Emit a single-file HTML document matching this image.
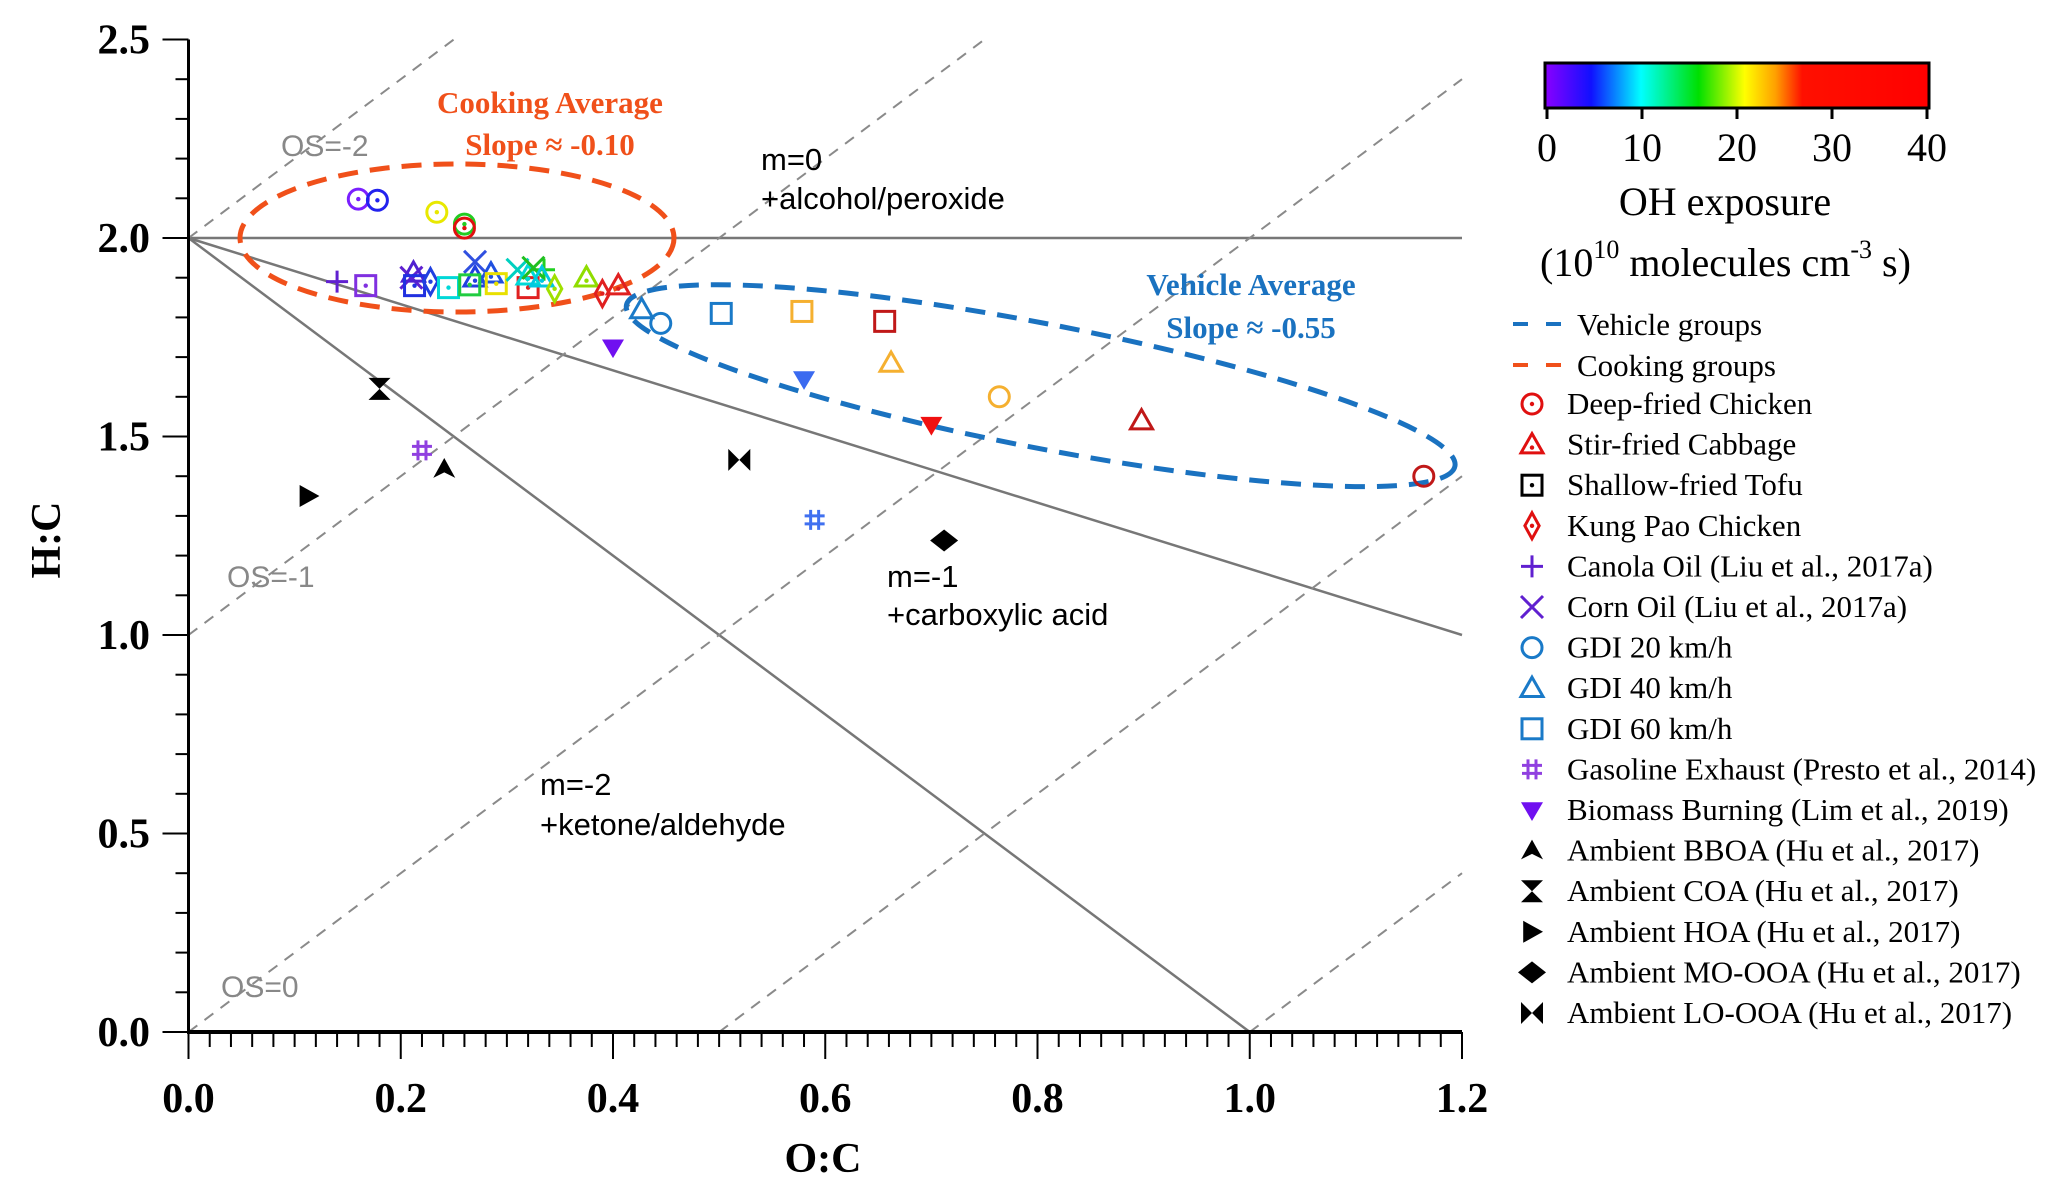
<!DOCTYPE html>
<html><head><meta charset="utf-8"><style>
html,body{margin:0;padding:0;background:#fff;}
svg{display:block;}
.tk{font-family:"Liberation Serif",serif;font-weight:bold;font-size:42px;}
.ann{font-family:"Liberation Sans",sans-serif;font-size:31px;fill:#000;}
.os{font-family:"Liberation Sans",sans-serif;font-size:30px;fill:#888;}
.lg{font-family:"Liberation Serif",serif;font-size:31px;fill:#000;}
</style></head><body>
<svg id="chart" width="2067" height="1195" viewBox="0 0 2067 1195" xmlns="http://www.w3.org/2000/svg">
<defs>
<linearGradient id="cmap" x1="0" x2="1" y1="0" y2="0">
<stop offset="0" stop-color="#8a00ff"/><stop offset="0.12" stop-color="#1010ff"/><stop offset="0.25" stop-color="#00ffff"/><stop offset="0.4" stop-color="#00e000"/><stop offset="0.52" stop-color="#ffff00"/><stop offset="0.6" stop-color="#ffa000"/><stop offset="0.67" stop-color="#ff1000"/><stop offset="1" stop-color="#ff0000"/>
</linearGradient>
</defs>
<g id="plot"></g>
<g id="legend"></g>
</svg>
<script>
// ---- data ----
const ocValues=[0.160,0.178,0.234,0.260,0.260,0.140,0.167,0.210,0.212,0.213,0.228,0.270,0.270,0.285,0.245,0.265,0.290,0.320,0.310,0.320,0.335,0.325,0.333,0.345,0.375,0.390,0.405,
0.427,0.445,0.502,0.578,0.656,0.662,0.764,0.898,1.164,
0.400,0.580,0.700,0.220,0.590,0.241,0.180,0.113,0.712,0.519];
const hcValues=[2.098,2.095,2.065,2.035,2.025,1.890,1.880,1.900,1.912,1.880,1.890,1.940,1.900,1.910,1.875,1.882,1.885,1.875,1.920,1.905,1.920,1.925,1.900,1.872,1.900,1.860,1.880,
1.820,1.785,1.810,1.815,1.790,1.685,1.600,1.540,1.400,
1.725,1.645,1.530,1.465,1.290,1.418,1.620,1.350,1.238,1.441];
const pointShapes=["circleDot","circleDot","circleDot","circleDot","circleDot","plus","squareDot","x","triangleDot","squareDot","diamondDot","x","triangleDot","triangleDot","squareDot","squareDot","squareDot","squareDot","x","triangleDot","plus","x","triangleDot","diamondDot","triangleDot","diamondDot","triangleDot",
"triangle","circle","square","square","square","triangle","circle","triangle","circle",
"tridown","tridown","tridown","hash","hash","bboa","coa","hoa","mo","lo"];
const pointColors=["#7a1fff","#2222ee","#e8e800","#22cc22","#e01010","#6020d0","#8030e0","#6020d0","#5020d0","#2030e0","#2040e0","#3050e0","#2040e0","#2050e0","#00d8d8","#20cc40","#e8e000","#e02020","#00d0c0","#00d8d8","#20d020","#20c020","#00c8e0","#a0e000","#90dd00","#e02020","#e02020",
"#1a7ac8","#1a7ac8","#1a7ac8","#f5b030","#c01818","#f5b030","#f5b030","#c01818","#c01818",
"#7010f0","#3a6af0","#f01010","#9040e0","#4070f0","#000","#000","#000","#000","#000"];
const xTicks=[0,0.2,0.4,0.6,0.8,1.0,1.2];
const xTickLabels=["0.0","0.2","0.4","0.6","0.8","1.0","1.2"];
const yTicks=[0,0.5,1.0,1.5,2.0,2.5];
const yTickLabels=["0.0","0.5","1.0","1.5","2.0","2.5"];
const cbTicks=[0,10,20,30,40];
const legendLabels=["Deep-fried Chicken","Stir-fried Cabbage","Shallow-fried Tofu","Kung Pao Chicken","Canola Oil (Liu et al., 2017a)","Corn Oil (Liu et al., 2017a)","GDI 20 km/h","GDI 40 km/h","GDI 60 km/h","Gasoline Exhaust (Presto et al., 2014)","Biomass Burning (Lim et al., 2019)","Ambient BBOA (Hu et al., 2017)","Ambient COA (Hu et al., 2017)","Ambient HOA (Hu et al., 2017)","Ambient MO-OOA (Hu et al., 2017)","Ambient LO-OOA (Hu et al., 2017)"];
const legendShapes=["circleDot","triangleDot","squareDot","diamondDot","plus","x","circle","triangle","square","hash","tridown","bboa","coa","hoa","mo","lo"];
const legendColors=["#e01010","#e01010","#000","#e01010","#6020d0","#6020d0","#1a7ac8","#1a7ac8","#1a7ac8","#9040e0","#7010f0","#000","#000","#000","#000","#000"];

// ---- axes ----
const X0=188.5,X1=1462,Y0=1032,Y1=39.5;
const sx=v=>X0+(X1-X0)*v/1.2;
const sy=v=>Y0-(Y0-Y1)*v/2.5;
const NS="http://www.w3.org/2000/svg";
function mk(tag,attrs,parent){const e=document.createElementNS(NS,tag);for(const k in attrs)e.setAttribute(k,attrs[k]);parent.appendChild(e);return e;}
const plot=document.getElementById('plot');
const legend=document.getElementById('legend');

// reference lines
const refLines=[[0,2,1.2,2,null],[0,2,1.2,1.0,null],[0,2,1.0,0,null],
[0,2,0.25,2.5,1],[0,1,0.75,2.5,1],[0,0,1.2,2.4,1],[0.5,0,1.2,1.4,1],[1.0,0,1.2,0.4,1]];
refLines.forEach((l,i)=>{
 const e=mk('line',{x1:sx(l[0]),y1:sy(l[1]),x2:sx(l[2]),y2:sy(l[3]),stroke:l[4]?'#8a8a8a':'#777','stroke-width':l[4]?2:2.5,'stroke-dasharray':l[4]?'11 9':'none'},plot);
 
 
});

// axes
let ax=mk('line',{x1:X0,y1:Y0,x2:X1,y2:Y0,stroke:'#000','stroke-width':4},plot);


ax=mk('line',{x1:X0,y1:Y0+2,x2:X0,y2:Y1,stroke:'#000','stroke-width':3},plot);


for(let i=0;i<=60;i++){const v=i*0.02;const maj=i%10===0;
 const t=mk('line',{x1:sx(v),y1:Y0,x2:sx(v),y2:Y0+(maj?27:15),stroke:'#000','stroke-width':2},plot);
 
 }
for(let i=0;i<=25;i++){const v=i*0.1;const maj=i%5===0;
 const t=mk('line',{x1:X0,y1:sy(v),x2:X0-(maj?26:13),y2:sy(v),stroke:'#000','stroke-width':2},plot);
 
 }
xTicks.forEach((v,i)=>{const t=mk('text',{x:sx(v),y:1112,'text-anchor':'middle',class:'tk'},plot);t.textContent=xTickLabels[i];
 
 });
yTicks.forEach((v,i)=>{const t=mk('text',{x:150,y:sy(v)+14,'text-anchor':'end',class:'tk','font-size':44},plot);t.textContent=yTickLabels[i];
 
 });
let tt=mk('text',{x:823,y:1172,'text-anchor':'middle',class:'tk','font-size':52},plot);tt.textContent='O:C';


tt=mk('text',{x:0,y:0,'text-anchor':'middle',class:'tk','font-size':52,transform:'translate(60,540) rotate(-90)'},plot);tt.textContent='H:C';



// annotations
const anns=[["m=0",761,170,'ann'],["+alcohol/peroxide",761,209,'ann'],["m=-1",887,587,'ann'],["+carboxylic acid",887,625,'ann'],["m=-2",540,795,'ann'],["+ketone/aldehyde",540,835,'ann'],["OS=-2",281,156,'os'],["OS=-1",227,587,'os'],["OS=0",221,997,'os']];
anns.forEach(a=>{const t=mk('text',{x:a[1],y:a[2],class:a[3]},plot);t.textContent=a[0];
 
 });
const bold=[["Cooking Average",550,113,'#f0501a'],["Slope ≈ -0.10",550,155,'#f0501a'],["Vehicle Average",1251,295,'#1a72c0'],["Slope ≈ -0.55",1251,338,'#1a72c0']];
bold.forEach(a=>{const t=mk('text',{x:a[1],y:a[2],'text-anchor':'middle',fill:a[3],'font-family':'"Liberation Serif",serif','font-weight':'bold','font-size':31},plot);t.textContent=a[0];
 
 });

// ellipses
let el=mk('ellipse',{cx:sx(0.253),cy:sy(2.0),rx:217,ry:74,fill:'none',stroke:'#f0501a','stroke-width':5,'stroke-dasharray':'20 12'},plot);


el=mk('ellipse',{cx:0,cy:0,rx:422,ry:62,fill:'none',stroke:'#1a72c0','stroke-width':5,'stroke-dasharray':'20 12',transform:`translate(${sx(0.803)},${sy(1.628)}) rotate(11)`},plot);



// markers
function marker(shape,x,y,c,parent){
 const g=mk('g',{transform:`translate(${x},${y})`},parent);
 const st={fill:'none',stroke:c,'stroke-width':3};
 const dot=()=>mk('circle',{r:2.2,fill:c},g);
 const s=11;
 if(shape.startsWith('circle')){mk('circle',Object.assign({r:s-1},st),g);if(shape.endsWith('Dot'))dot();}
 else if(shape.startsWith('triangle')){mk('polygon',Object.assign({points:`0,${-s} ${s},${s*0.75} ${-s},${s*0.75}`},st),g);if(shape.endsWith('Dot'))mk('circle',{r:2.2,cy:3,fill:c},g);}
 else if(shape.startsWith('square')){mk('rect',Object.assign({x:-s+1,y:-s+1,width:2*s-2,height:2*s-2},st),g);if(shape.endsWith('Dot'))dot();}
 else if(shape.startsWith('diamond')){mk('polygon',Object.assign({points:`0,${-s-2} ${s*0.65},0 0,${s+2} ${-s*0.65},0`},st),g);if(shape.endsWith('Dot'))dot();}
 else if(shape==='plus'){mk('path',Object.assign({d:`M${-s},0H${s}M0,${-s}V${s}`},st),g);}
 else if(shape==='x'){mk('path',Object.assign({d:`M${-s},${-s}L${s},${s}M${s},${-s}L${-s},${s}`},st),g);}
 else if(shape==='hash'){mk('path',Object.assign({d:`M-4,-10L-4,10M4,-10L4,10M-10,-4H10M-10,4H10`},st),g);}
 else if(shape==='tridown'){mk('polygon',{points:`${-s},${-s*0.7} ${s},${-s*0.7} 0,${s}`,fill:c},g);}
 else if(shape==='bboa'){mk('polygon',{points:`0,${-s} ${s},${s*0.8} 0,${s*0.3} ${-s},${s*0.8}`,fill:c},g);}
 else if(shape==='coa'){mk('polygon',{points:`${-s},${-s} ${s},${-s} 0,0 ${s},${s} ${-s},${s} 0,0`,fill:c},g);}
 else if(shape==='hoa'){mk('polygon',{points:`${-s*0.8},${-s} ${s},0 ${-s*0.8},${s}`,fill:c},g);}
 else if(shape==='mo'){mk('polygon',{points:`0,${-s} ${s+3},0 0,${s} ${-s-3},0`,fill:c},g);}
 else if(shape==='lo'){mk('polygon',{points:`${-s},${-s} 0,0 ${s},${-s} ${s},${s} 0,0 ${-s},${s}`,fill:c},g);}
 return g;
}
ocValues.forEach((v,i)=>{
 const g=marker(pointShapes[i],sx(v),sy(hcValues[i]),pointColors[i],plot);
 
 
});

// colorbar
const CB0=1545,CB1=1929;
let cb=mk('rect',{x:CB0,y:63,width:CB1-CB0,height:45,fill:'url(#cmap)',stroke:'#000','stroke-width':3},legend);


cbTicks.forEach(v=>{const x=CB0+2+(CB1-CB0-4)*v/40;
 const l=mk('line',{x1:x,y1:108,x2:x,y2:119,stroke:'#000','stroke-width':3},legend);
 
 
 const t=mk('text',{x:x,y:161,'text-anchor':'middle','font-family':'"Liberation Serif",serif','font-size':40},legend);t.textContent=v;
 
 });
let ct=mk('text',{x:1725,y:215,'text-anchor':'middle','font-family':'"Liberation Serif",serif','font-size':40},legend);ct.textContent='OH  exposure';


ct=mk('text',{x:1540,y:276,'font-family':'"Liberation Serif",serif','font-size':40},legend);
ct.innerHTML='(10<tspan dy="-18" font-size="26">10</tspan><tspan dy="18"> molecules cm</tspan><tspan dy="-18" font-size="26">-3</tspan><tspan dy="18"> s)</tspan>';



// legend entries
[["Vehicle groups","#1a72c0",324],["Cooking groups","#f0501a",365]].forEach(a=>{
 const l=mk('line',{x1:1513,y1:a[2],x2:1561,y2:a[2],stroke:a[1],'stroke-width':4,'stroke-dasharray':'15 18'},legend);
 
 
 const t=mk('text',{x:1577,y:a[2]+11,class:'lg','font-size':33},legend);t.textContent=a[0];
 
 
});
legendLabels.forEach((lab,i)=>{const y=404+i*40.6;
 const g=marker(legendShapes[i],1532,y,legendColors[i],legend);
 
 
 const t=mk('text',{x:1567,y:y+10,class:'lg'},legend);t.textContent=lab;
 
 
});
</script>
</body></html>
